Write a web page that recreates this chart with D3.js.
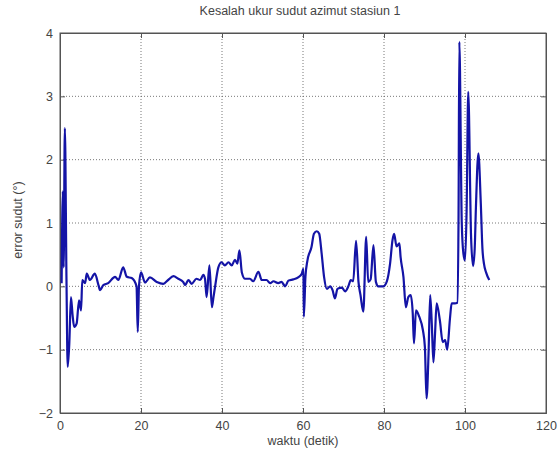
<!DOCTYPE html>
<html>
<head>
<meta charset="utf-8">
<script src="https://cdn.jsdelivr.net/npm/d3@7"></script>
<style>
  body { margin: 0; background: #fff; }
  svg { display: block; font-family: "Liberation Sans", Arial, sans-serif; }
  .tick text { fill: #444; font-size: 12.5px; }
  .grid line { stroke: #555; stroke-dasharray: 1,2; stroke-width: 0.8; }
</style>
</head>
<body>
<svg id="chart"></svg>
<script>
const TITLE   = 'Kesalah ukur sudut azimut stasiun 1';
const X_LABEL = 'waktu (detik)';
const Y_LABEL = 'error sudut (°)';

const xTicks = [0, 20, 40, 60, 80, 100, 120];
const yTicks = [-2, -1, 0, 1, 2, 3, 4];

// waktu (s) and error (deg)
const waktu = [
  0.4, 0.7, 0.9, 1.2, 1.6, 1.9, 2.3, 2.7, 3.1, 3.5, 4.1, 4.7, 5.2, 5.5, 6.2, 6.6, 7.4, 8.6,
  9.5, 9.9, 10.7, 11.9, 13.6, 14.4, 15.6, 16.5, 17.7, 18.9, 19.2, 19.5, 20.0, 21.0, 22.2,
  23.9, 25.5, 26.7, 28.0, 29.2, 30.4, 30.9, 31.7, 32.5, 33.7, 34.6, 35.4, 35.8, 36.2, 36.9,
  37.5, 37.9, 38.3, 39.1, 39.9, 40.7, 41.6, 42.4, 43.2, 43.8, 44.3, 44.9, 45.7, 46.9, 47.7,
  49.0, 49.8, 51.0, 51.9, 52.7, 53.9, 54.7, 55.6, 56.4, 57.6, 58.8, 59.7, 60.1, 60.2, 60.6,
  61.1, 62.1, 62.7, 63.4, 64.0, 64.6, 65.2, 65.9, 66.7, 67.3, 67.9, 68.5, 69.6, 70.4, 71.2,
  71.8, 72.4, 73.1, 73.7, 74.2, 74.9, 75.6, 76.1, 76.7, 77.4, 78.0, 78.6, 79.8, 80.7, 81.5,
  82.1, 82.5, 83.1, 83.8, 84.1, 84.8, 85.4, 86.0, 86.6, 87.1, 87.4, 87.9, 88.7, 89.6, 90.1,
  90.5, 91.0, 91.4, 91.8, 92.2, 92.6, 93.0, 93.8, 94.5, 95.1, 95.6, 96.3, 96.7, 97.5, 98.1,
  98.4, 98.6, 99.2, 99.6, 100.0, 100.4, 100.8, 101.5, 102.0, 102.4, 102.7, 103.3, 103.9,
  104.3, 104.7, 105.2, 106.0
];
const errSudut = [
  0.05, 1.5, 0.3, 2.5, 0.1, -1.27, -0.9, -0.17, -0.45, -0.64, -0.59, -0.22, -0.38, 0.1, 0.05, 0.2, 0.1, 0.2,
  0.02, -0.06, 0.02, 0.05, 0.15, 0.1, 0.3, 0.15, 0.13, 0.0, -0.72, 0.0, 0.22, 0.06, 0.14,
  0.07, 0.04, 0.1, 0.16, 0.12, 0.07, 0.02, 0.1, 0.04, 0.12, 0.1, 0.18, 0.12, -0.17, 0.33,
  -0.33, -0.17, 0.0, 0.3, 0.38, 0.33, 0.38, 0.33, 0.42, 0.36, 0.57, 0.22, 0.12, 0.12, 0.08,
  0.23, 0.1, 0.1, 0.05, 0.08, 0.05, 0.07, 0.0, 0.09, 0.11, 0.14, 0.2, 0.28, -0.48, 0.15,
  0.41, 0.62, 0.83, 0.87, 0.83, 0.52, 0.15, -0.04, 0.0, -0.06, -0.19, -0.04, -0.02, -0.08, 0.0,
  0.1, 0.08, 0.72, 0.07, -0.14, -0.4, 0.78, 0.07, 0.11, 0.65, 0.07, 0.0, 0.0, 0.08, 0.36,
  0.73, 0.83, 0.63, 0.68, 0.46, 0.15, -0.33, -0.17, -0.14, -0.43, -0.9, -0.38, -0.48, -0.69, -0.96,
  -1.77, -1.06, -0.14, -0.59, -1.2, -0.75, -0.27, -0.54, -0.88, -0.85, -1.0, -0.5, -0.27, -0.27, -0.26,
  1.04, 3.86, 1.0, 0.52, 0.41, 1.2, 3.07, 0.78, 0.32, 0.6, 1.25, 2.1, 1.31,
  0.6, 0.35, 0.22, 0.1
];

const SVG_W  = 560;
const SVG_H  = 454;
const MARGIN = { top: 33, right: 14, bottom: 41, left: 60 };
const W      = SVG_W - MARGIN.left - MARGIN.right;
const H      = SVG_H - MARGIN.top  - MARGIN.bottom;

const xScale = d3.scaleLinear().domain([0, 120]).range([0, W]);
const yScale = d3.scaleLinear().domain([-2, 4]).range([H, 0]);

const svg = d3.select('#chart').attr('width', SVG_W).attr('height', SVG_H);
const g   = svg.append('g').attr('transform', `translate(${MARGIN.left},${MARGIN.top})`);

// dotted grid
g.append('g').attr('class', 'grid')
  .selectAll('line').data(xTicks.slice(1, -1)).join('line')
  .attr('x1', d => xScale(d)).attr('x2', d => xScale(d))
  .attr('y1', 0).attr('y2', H);
g.append('g').attr('class', 'grid')
  .selectAll('line').data(yTicks.slice(1, -1)).join('line')
  .attr('x1', 0).attr('x2', W)
  .attr('y1', d => yScale(d)).attr('y2', d => yScale(d));

// axes with inward ticks, MATLAB style box
g.append('g').attr('transform', `translate(0,${H})`)
  .call(d3.axisBottom(xScale).tickValues(xTicks).tickSize(-5).tickPadding(8).tickFormat(d3.format('d')));
g.append('g')
  .call(d3.axisLeft(yScale).tickValues(yTicks).tickSize(-5).tickPadding(7).tickFormat(d3.format('d')));
g.append('g')
  .call(d3.axisTop(xScale).tickValues(xTicks).tickSize(-5).tickFormat(''));
g.append('g').attr('transform', `translate(${W},0)`)
  .call(d3.axisRight(yScale).tickValues(yTicks).tickSize(-5).tickFormat(''));

g.selectAll('.domain').attr('stroke', '#555');
g.selectAll('.tick line').attr('stroke', '#555');

g.append('rect')
  .attr('width', W).attr('height', H)
  .attr('fill', 'none').attr('stroke', '#555').attr('stroke-width', 1);

// series
const pts = waktu.map((t, i) => [t, errSudut[i]]);
g.append('path')
  .datum(pts)
  .attr('fill', 'none')
  .attr('stroke', '#1414a6')
  .attr('stroke-width', 2.2)
  .attr('stroke-linejoin', 'round')
  .attr('d', d3.line().curve(d3.curveMonotoneX).x(d => xScale(d[0])).y(d => yScale(d[1])));

// texts
svg.append('text')
  .attr('x', 300).attr('y', 15)
  .attr('text-anchor', 'middle')
  .attr('font-size', 12.5).attr('fill', '#444')
  .text(TITLE);

svg.append('text')
  .attr('x', MARGIN.left + W / 2).attr('y', SVG_H - 9)
  .attr('text-anchor', 'middle')
  .attr('font-size', 12.5).attr('fill', '#444')
  .text(X_LABEL);

svg.append('text')
  .attr('transform', `translate(22,${MARGIN.top + H / 2 - 3}) rotate(-90)`)
  .attr('text-anchor', 'middle')
  .attr('font-size', 12.5).attr('fill', '#444')
  .text(Y_LABEL);
</script>
</body>
</html>
